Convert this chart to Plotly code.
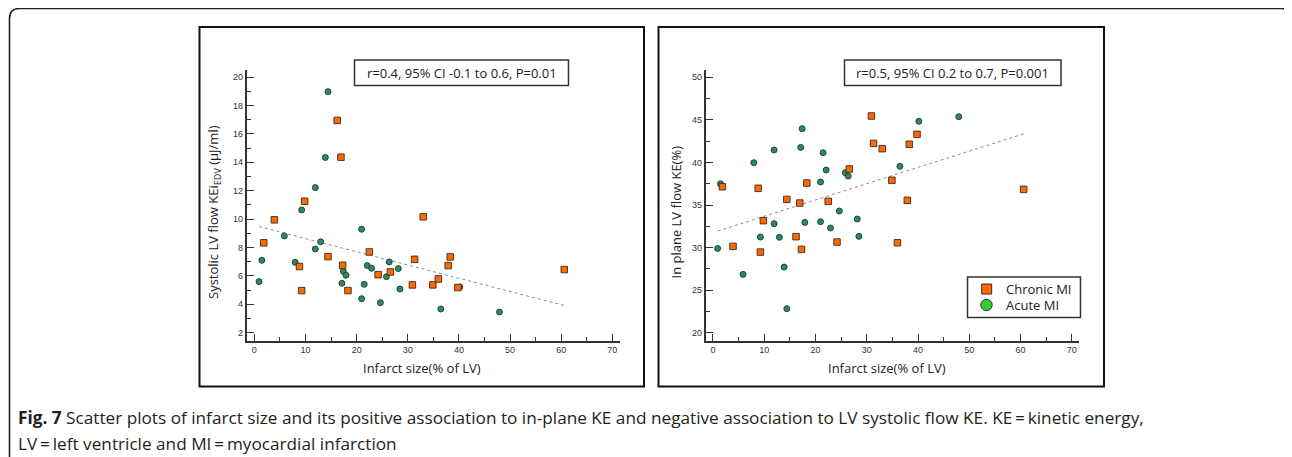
import plotly.graph_objects as go

# ---------------- data ----------------
chronic_x = [1.83, 3.91, 8.82, 9.25, 9.83, 14.4, 16.2, 16.93, 17.26, 18.3,
             22.48, 24.2, 26.6, 30.9, 31.33, 33.02, 34.9, 35.98, 37.9, 38.3, 39.8, 60.6]
chronic_systolic = [8.33, 9.95, 6.66, 4.97, 11.26, 7.36, 16.95, 14.36, 6.75, 4.97,
                    7.69, 6.09, 6.28, 5.37, 7.17, 10.16, 5.37, 5.79, 6.73, 7.34, 5.18, 6.45]
chronic_inplane = [37.15, 30.14, 36.96, 29.47, 33.16, 35.66, 31.28, 35.23, 29.79, 37.58,
                   35.43, 30.65, 39.23, 45.46, 42.24, 41.62, 37.9, 30.57, 35.55, 42.13, 43.3, 36.84]

acute_x = [0.91, 1.46, 5.86, 7.97, 9.25, 11.92, 11.92, 12.96, 13.88, 14.4,
           17.12, 17.39, 17.92, 20.98, 20.98, 21.48, 22.08, 22.92, 24.65, 25.82,
           26.38, 28.15, 28.46, 36.46, 40.17, 47.94]
acute_systolic = [5.60, 7.10, 8.82, 6.96, 10.65, 12.22, 7.90, 8.40, 14.34, 18.97,
                  5.48, 6.33, 6.05, 9.29, 4.40, 5.41, 6.73, 6.54, 4.12, 5.95,
                  6.99, 6.52, 5.08, 3.67, 5.22, 3.46]
acute_inplane = [29.9, 37.5, 26.85, 39.97, 31.24, 41.46, 32.8, 31.2, 27.71, 22.82,
                 41.77, 43.97, 32.96, 37.7, 33.04, 41.15, 39.11, 32.3, 34.3, 38.8,
                 38.4, 33.35, 31.32, 39.54, 44.83, 45.38]

trend_x = [0.91, 60.7]
trend_systolic = [9.48, 3.91]
trend_inplane = [31.94, 43.38]

x_ticks = [0, 10, 20, 30, 40, 50, 60, 70]
systolic_ticks = [2, 4, 6, 8, 10, 12, 14, 16, 18, 20]
inplane_ticks = [20, 25, 30, 35, 40, 45, 50]

legend_labels = ["Chronic MI", "Acute MI"]
stats_left = "r=0.4, 95% CI -0.1 to 0.6, P=0.01"
stats_right = "r=0.5, 95% CI 0.2 to 0.7, P=0.001"
caption_line1 = ("<b>Fig. 7</b> Scatter plots of infarct size and its positive association to in-plane KE "
                 "and negative association to LV systolic flow KE. KE\u2009=\u2009kinetic energy,")
caption_line2 = "LV\u2009=\u2009left ventricle and MI\u2009=\u2009myocardial infarction"

# ---------------- layout helpers ----------------
W, H = 1292, 457
OFF = 8  # page body margin of the rendered html
def fx(p): return (p - OFF) / W
def fy(p): return 1 - (p - OFF) / H

ORANGE = "#ff6a00"
GREEN = "#2a8c5e"
LEG_GREEN = "#33cc33"
AX = "#333333"
TXT_FONT = "Open Sans"

fig = go.Figure()

mk_sq = dict(symbol="square", size=6.5, color=ORANGE, line=dict(color="#3a2a20", width=0.9))
mk_ci = dict(symbol="circle", size=6, color=GREEN, line=dict(color="#1d3a2c", width=0.9))

for xa, ya, cy, ay, ty in [("x", "y", chronic_systolic, acute_systolic, trend_systolic),
                           ("x2", "y2", chronic_inplane, acute_inplane, trend_inplane)]:
    fig.add_trace(go.Scatter(x=trend_x, y=ty, mode="lines", xaxis=xa, yaxis=ya,
                             line=dict(color="#8c8c8c", width=1, dash="dot"),
                             showlegend=False, hoverinfo="skip"))
    fig.add_trace(go.Scatter(x=acute_x, y=ay, mode="markers", xaxis=xa, yaxis=ya,
                             marker=mk_ci, name=legend_labels[1], showlegend=False))
    fig.add_trace(go.Scatter(x=chronic_x, y=cy, mode="markers", xaxis=xa, yaxis=ya,
                             marker=mk_sq, name=legend_labels[0], showlegend=False))

def xaxis_cfg(left, right, rng):
    return dict(domain=[fx(left), fx(right)], range=rng, tickvals=x_ticks,
                ticks="inside", ticklen=7, tickwidth=1.2, tickcolor=AX,
                showline=True, linecolor=AX, linewidth=1.6, showgrid=False, zeroline=False,
                minor=dict(ticks="inside", ticklen=4, tickwidth=1.2, tickcolor=AX,
                           tick0=0, dtick=5, showgrid=False),
                tickfont=dict(family="Liberation Sans, Arial", size=9, color=AX),
                fixedrange=True)

def yaxis_cfg(anchor, rng, tv, mdt):
    return dict(domain=[fy(340.7), fy(70)], range=rng, tickvals=tv, anchor=anchor,
                ticks="inside", ticklen=7, tickwidth=1.2, tickcolor=AX,
                showline=True, linecolor=AX, linewidth=1.6, showgrid=False, zeroline=False,
                minor=dict(ticks="inside", ticklen=4, tickwidth=1.2, tickcolor=AX,
                           tick0=tv[0], dtick=mdt, showgrid=False),
                tickfont=dict(family="Liberation Sans, Arial", size=9, color=AX),
                fixedrange=True)

shapes = []
# outer rounded frame (open at bottom, beyond image)
r = 10
x0, y0, x1 = 9.5, 8.5, 1291
path = (f"M {fx(x0)},{fy(480)} L {fx(x0)},{fy(y0 + r)} "
        f"Q {fx(x0)},{fy(y0)} {fx(x0 + r)},{fy(y0)} "
        f"L {fx(x1 - r)},{fy(y0)} Q {fx(x1)},{fy(y0)} {fx(x1)},{fy(y0 + r)} "
        f"L {fx(x1)},{fy(480)}")
shapes.append(dict(type="path", xref="paper", yref="paper", path=path,
                   line=dict(color="#222222", width=1.6)))
# panel frames
for (a, b, c, d) in [(199.5, 27, 644, 386.5), (658.5, 27, 1104, 386.5)]:
    shapes.append(dict(type="rect", xref="paper", yref="paper",
                       x0=fx(a), x1=fx(c), y0=fy(d), y1=fy(b),
                       line=dict(color="#111111", width=2)))
# stats boxes
for (a, b, c, d) in [(354.5, 60, 568.5, 85.5), (844.5, 60, 1061, 85.5)]:
    shapes.append(dict(type="rect", xref="paper", yref="paper",
                       x0=fx(a), x1=fx(c), y0=fy(d), y1=fy(b),
                       line=dict(color="#333333", width=1.5)))
# legend box and symbols
shapes.append(dict(type="rect", xref="paper", yref="paper",
                   x0=fx(967.5), x1=fx(1080.5), y0=fy(317.5), y1=fy(277),
                   line=dict(color="#333333", width=1.5), fillcolor="white"))
shapes.append(dict(type="rect", xref="paper", yref="paper",
                   x0=fx(981.7), x1=fx(991.7), y0=fy(294), y1=fy(284),
                   line=dict(color="#3a2a20", width=1), fillcolor=ORANGE))
shapes.append(dict(type="circle", xref="paper", yref="paper",
                   x0=fx(980.8), x1=fx(992.2), y0=fy(310.7), y1=fy(299.3),
                   line=dict(color="#1d3a2c", width=1), fillcolor=LEG_GREEN))

ann = []
def text(x, y, t, size, angle=0, xanchor="center", family=TXT_FONT, color="#222222"):
    ann.append(dict(x=fx(x), y=fy(y), xref="paper", yref="paper", text=t, showarrow=False,
                    textangle=angle, xanchor=xanchor, yanchor="middle",
                    font=dict(family=family, size=size, color=color)))

text(461.5, 73, stats_left, 13)
text(952.7, 73, stats_right, 13)
text(421.7, 368, "Infarct size(% of LV)", 13)
text(886.5, 368, "Infarct size(% of LV)", 13)
text(214, 212, "Systolic LV flow KEi<sub>EDV</sub> (\u03bcJ/ml)", 13, angle=-90)
text(675.5, 212, "In plane LV flow KE(%)", 13, angle=-90)
text(1003.5, 289, legend_labels[0], 13, xanchor="left")
text(1003.5, 305, legend_labels[1], 13, xanchor="left")
text(16, 417.5, caption_line1, 17.2, xanchor="left", color="#231f20")
text(16, 443.5, caption_line2, 17.2, xanchor="left", color="#231f20")

fig.update_layout(
    width=W, height=H, margin=dict(l=0, r=0, t=0, b=0),
    paper_bgcolor="white", plot_bgcolor="white",
    xaxis=xaxis_cfg(246.7, 620, [-1.5, 71.5]),
    yaxis=yaxis_cfg("x", [1.44, 20.5], systolic_ticks, 1),
    xaxis2=xaxis_cfg(705.7, 1079, [-1.42, 71.4]) | dict(anchor="y2"),
    yaxis2=yaxis_cfg("x2", [19.06, 50.86], inplane_ticks, 2.5),
    shapes=shapes, annotations=ann,
    showlegend=False,
)
fig.write_html("out.html")
